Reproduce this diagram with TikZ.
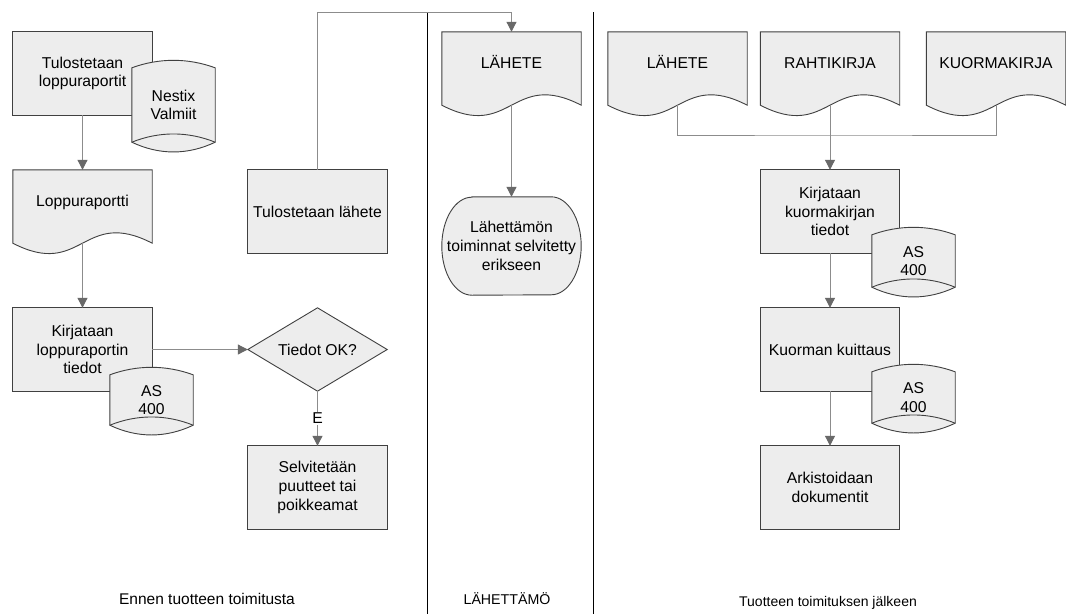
\documentclass[tikz,border=0pt]{standalone}
\usepackage{fontspec}
\setmainfont{Liberation Sans}
\usetikzlibrary{arrows.meta,calc,backgrounds}

\definecolor{shapefill}{RGB}{237,237,237}
\definecolor{edgecol}{RGB}{64,64,64}
\definecolor{flowcol}{RGB}{140,140,140}
\definecolor{tipcol}{RGB}{105,105,105}

\tikzset{
  lbl/.style={align=center, inner sep=0pt, font=\fontsize{15.7}{18.7}\selectfont},
  lanelbl/.style={inner sep=0pt, font=\fontsize{14.2}{17}\selectfont},
  proc/.style={lbl, minimum width=139pt, minimum height=83pt},
  docbox/.style={lbl, minimum width=139pt, minimum height=73pt, text height=11pt, text depth=11pt},
  cylbox/.style={lbl, minimum width=83pt},
  termbox/.style={lbl, minimum width=139pt, minimum height=98pt},
  outline/.style={draw=edgecol, fill=shapefill, line width=0.9pt},
  edgeline/.style={draw=edgecol, line width=0.9pt},
  flowline/.style={draw=flowcol, line width=1pt},
  arr/.style={flowline, -{Triangle[length=10pt, width=10pt, color=tipcol]}},
  laneline/.style={draw=black, line width=0.9pt},
}

% outlines drawn from the corners of a text node
\newcommand\procoutline[1]{\path[outline] (#1.south west) rectangle (#1.north east);}
\newcommand\docoutline[1]{\path[outline] (#1.south west) -- (#1.north west) -- (#1.north east) -- (#1.south east)
  .. controls ($(#1.south)+(0,-36)$) and ($(#1.south)+(0,36)$) .. (#1.south west) -- cycle;}
\newcommand\cyloutline[1]{%
  \path[outline] (#1.north west)
    .. controls ($(#1.north west)!0.33!(#1.north east)+(0,-10)$) and ($(#1.north west)!0.67!(#1.north east)+(0,-10)$) .. (#1.north east)
    -- (#1.south east)
    .. controls ($(#1.south west)!0.67!(#1.south east)+(0,13)$) and ($(#1.south west)!0.33!(#1.south east)+(0,13)$) .. (#1.south west)
    -- cycle;
  \path[edgeline] (#1.south west)
    .. controls ($(#1.south west)!0.33!(#1.south east)+(0,-11)$) and ($(#1.south west)!0.67!(#1.south east)+(0,-11)$) .. (#1.south east);}
\newcommand\termoutline[1]{\path[outline] ($(#1.north west)+(30,0)$) -- ($(#1.north east)+(-30,0)$)
  arc[start angle=90, end angle=-90, x radius=30pt, y radius=49pt]
  -- ($(#1.south west)+(30,0)$)
  arc[start angle=270, end angle=90, x radius=30pt, y radius=49pt] -- cycle;}
\newcommand\diaoutline[1]{\path[outline] (#1.west) -- (#1.north) -- (#1.east) -- (#1.south) -- cycle;}

\begin{document}
\begin{tikzpicture}[x=1pt, y=-1pt]
\useasboundingbox (0,0) rectangle (1066,614);

% --- lane 1: before delivery
\node[proc] (t1) at (82.5,73.5) {Tulostetaan\\loppuraportit};
\node[cylbox, minimum height=74pt] (nx) at (173.5,105) {Nestix\\Valmiit};
\node[docbox] (lop) at (82.5,206.5) {Loppuraportti};
\node[proc] (k1) at (82.5,349.5) {Kirjataan\\loppuraportin\\tiedot};
\node[cylbox, minimum height=50pt] (as1) at (151.5,400) {AS\\400};
\node[proc] (dia) at (317.5,349.5) {Tiedot OK?};
\node[proc] (sel) at (317.5,487.5) {Selvitetään\\puutteet tai\\poikkeamat};
\node[proc] (tl) at (317.5,211.5) {Tulostetaan lähete};

% --- lane 2: dispatch
\node[docbox] (lah) at (511.5,68.5) {LÄHETE};
\node[termbox] (term) at (511.5,246) {Lähettämön\\toiminnat selvitetty\\erikseen};

% --- lane 3: after delivery
\node[docbox] (lah3) at (677.5,68.5) {LÄHETE};
\node[docbox] (rah) at (830,68.5) {RAHTIKIRJA};
\node[docbox] (kuo) at (996,68.5) {KUORMAKIRJA};
\node[proc] (k2) at (830,211.5) {Kirjataan\\kuormakirjan\\tiedot};
\node[cylbox, minimum height=52pt] (as2) at (913.5,261) {AS\\400};
\node[proc] (kk) at (830,349.5) {Kuorman kuittaus};
\node[cylbox, minimum height=51pt] (as3) at (913.5,397.5) {AS\\400};
\node[proc] (ark) at (830,487.5) {Arkistoidaan\\dokumentit};

% --- lane titles
\node[lanelbl, font=\fontsize{15.5}{18}\selectfont] (lane1) at (207,599) {Ennen tuotteen toimitusta};
\node[lanelbl] (lane2) at (507,599) {LÄHETTÄMÖ};
\node[lanelbl, font=\fontsize{14}{17}\selectfont] (lane3) at (828,603) {Tuotteen toimituksen jälkeen};

% --- shape outlines behind the texts
\begin{scope}[on background layer]
  \fill[white] (0,0) rectangle (1066,614);
  \procoutline{t1}
  \cyloutline{nx}
  \docoutline{lop}
  \procoutline{k1}
  \cyloutline{as1}
  \diaoutline{dia}
  \procoutline{sel}
  \procoutline{tl}
  \docoutline{lah}
  \termoutline{term}
  \docoutline{lah3}
  \docoutline{rah}
  \docoutline{kuo}
  \procoutline{k2}
  \cyloutline{as2}
  \procoutline{kk}
  \cyloutline{as3}
  \procoutline{ark}
\end{scope}

% --- lane separators
\coordinate (sep1top) at (427.5,12);
\coordinate (sep2top) at (593.5,12);
\draw[laneline] (sep1top) -- (sep1top |- 0,614);
\draw[laneline] (sep2top) -- (sep2top |- 0,614);

% --- flow
\draw[arr] (t1.south) -- (lop.north);
\draw[arr] (lop.south) -- (k1.north);
\draw[arr] (k1.east) -- (dia.west);
\draw[arr] (dia.south) -- node[lbl, fill=white, inner sep=1.5pt] {E} (sel.north);
\coordinate (topbus) at (0,12);
\draw[arr] (tl.north) |- (topbus -| lah.north) -- (lah.north);
\draw[arr] (lah.south) -- (term.north);
\coordinate (bus) at (830,135);
\draw[flowline] (lah3.south) |- (bus) -| (kuo.south);
\draw[arr] (rah.south) -- (k2.north);
\draw[arr] (k2.south) -- (kk.north);
\draw[arr] (kk.south) -- (ark.north);
\end{tikzpicture}
\end{document}
